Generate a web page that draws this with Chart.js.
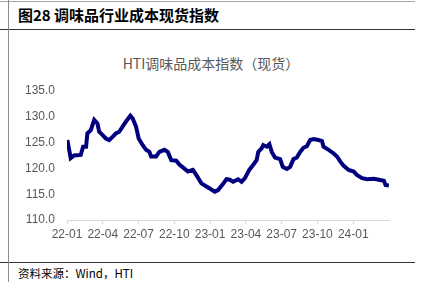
<!DOCTYPE html>
<html>
<head>
<meta charset="utf-8">
<script src="https://cdn.jsdelivr.net/npm/chart.js@4.4.1/dist/chart.umd.min.js"></script>
<style>
  html, body { margin: 0; padding: 0; background: #fff; width: 426px; height: 282px; overflow: hidden; }
  .hl { position: absolute; left: 0; width: 415px; height: 1px; }
  #vl { position: absolute; left: 8px; top: 0; width: 1px; height: 282px; background: #8c8c8c; }
  #head { position: absolute; left: 18px; top: 5px; font: bold 15px "Noto Sans CJK SC", sans-serif; line-height: 20px; color: #000; white-space: nowrap; }
  #ctitle { position: absolute; left: -2px; width: 426px; top: 53px; text-align: center; font: 14px "Noto Sans CJK SC", sans-serif; line-height: 20px; color: #595959; white-space: nowrap; }
  #src { position: absolute; left: 18px; top: 264px; font: 11.5px "Noto Sans CJK SC", sans-serif; line-height: 18px; color: #000; white-space: nowrap; }
  #wrap { position: absolute; left: 0; top: 0; width: 426px; height: 282px; }
</style>
</head>
<body>
<div class="hl" style="top:1px;background:#a6a6a6;"></div>
<div class="hl" style="top:29px;background:#333;"></div>
<div class="hl" style="top:262px;background:#333;"></div>
<div id="vl"></div>
<div id="head">图28 调味品行业成本现货指数</div>
<div id="ctitle">HTI调味品成本指数（现货）</div>
<div id="src">资料来源：Wind，HTI</div>
<div id="wrap"><canvas id="c" width="426" height="282"></canvas></div>
<script>
// Months since 2022-01 (fractional)
const monthPos = [0.03,0.31,0.59,1.15,1.35,1.60,1.71,2.00,2.28,2.55,2.70,2.97,3.26,3.54,3.82,4.10,4.38,4.66,4.95,5.31,5.50,5.79,6.01,6.35,6.63,6.91,7.05,7.47,7.75,8.17,8.45,8.74,9.16,9.44,9.72,10.14,10.56,10.85,11.27,11.69,11.97,12.39,12.67,13.09,13.37,13.65,13.93,14.35,14.64,14.92,15.28,15.62,15.90,16.04,16.32,16.46,16.75,16.97,17.17,17.44,17.87,18.09,18.43,18.71,18.99,19.27,19.55,19.83,20.11,20.39,20.67,21.09,21.38,21.51,21.94,22.36,22.64,22.92,23.20,23.62,24.04,24.33,24.75,25.17,25.73,26.15,26.57,26.71,26.99];
const indexValues = [125.5,122.0,122.5,122.6,124.2,124.2,126.8,127.4,129.4,128.7,127.1,126.5,125.8,125.5,126.1,126.8,127.1,128.1,129.1,130.2,129.7,128.1,125.8,124.5,123.6,123.2,122.3,122.3,123.2,123.6,123.2,121.6,121.5,120.7,120.2,119.4,119.7,118.7,117.1,116.5,116.1,115.5,115.8,117.0,117.9,117.8,117.4,117.9,117.4,118.1,119.7,120.7,121.6,123.2,123.9,124.5,124.2,124.7,123.2,122.1,121.8,120.3,119.9,120.3,121.8,122.1,123.2,124.0,124.3,125.5,125.7,125.5,125.3,124.2,123.6,122.9,122.3,121.3,120.5,119.7,119.4,118.7,118.1,117.9,118.0,117.8,117.6,116.8,116.7];
const xTickLabels = ['22-01','22-04','22-07','22-10','23-01','23-04','23-07','23-10','24-01'];
const yTicks = [110, 115, 120, 125, 130, 135];

const points = monthPos.map((m, i) => ({ x: m, y: indexValues[i] }));
const tickFont = { family: '"Liberation Sans", Arial, sans-serif', size: 12 };

new Chart(document.getElementById('c'), {
  type: 'line',
  data: {
    datasets: [{
      data: points,
      borderColor: '#00007f',
      borderWidth: 4,
      pointRadius: 0,
      tension: 0,
      fill: false
    }]
  },
  options: {
    responsive: false,
    animation: false,
    events: [],
    layout: { padding: { left: 0, right: 37, top: 91, bottom: 0 } },
    plugins: { legend: { display: false }, title: { display: false }, tooltip: { enabled: false } },
    scales: {
      x: {
        type: 'linear',
        min: 0,
        max: 27,
        afterBuildTicks: (s) => { s.ticks = xTickLabels.map((_, i) => ({ value: i * 3 })); },
        afterFit: (s) => { s.height = 62; },
        ticks: {
          color: '#595959',
          font: tickFont,
          padding: 3,
          maxRotation: 0,
          autoSkip: false,
          callback: (v) => xTickLabels[Math.round(v / 3)] ?? ''
        },
        grid: { display: true, drawOnChartArea: false, drawTicks: true, tickLength: 4, color: '#d9d9d9' },
        border: { display: true, color: '#d9d9d9', width: 1 }
      },
      y: {
        min: 110,
        max: 135,
        afterBuildTicks: (s) => { s.ticks = yTicks.map(v => ({ value: v })); },
        afterFit: (s) => { s.width = 67; },
        ticks: {
          color: '#595959',
          font: tickFont,
          padding: 12,
          callback: (v) => Number(v).toFixed(1)
        },
        grid: { display: false, drawTicks: false },
        border: { display: false }
      }
    }
  }
});
</script>
</body>
</html>
